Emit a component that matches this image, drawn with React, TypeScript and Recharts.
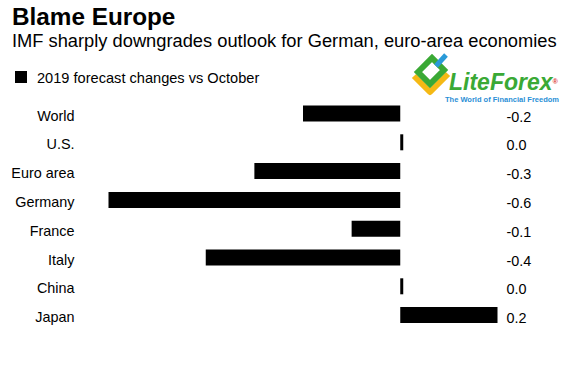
import * as React from 'react'
import { Bar, BarChart, XAxis, YAxis } from 'recharts'

const categories = ['World', 'U.S.', 'Euro area', 'Germany', 'France', 'Italy', 'China', 'Japan']
const changes = [-0.2, 0.0, -0.3, -0.6, -0.1, -0.4, 0.0, 0.2]
const xDomain: [number, number] = [-0.6, 0.2]

const data = categories.map((name, i) => ({ name, change: changes[i] }))
const labelFor: Record<string, string> = Object.fromEntries(
  categories.map((name, i) => [name, changes[i].toFixed(1)])
)

const FONT = '"Liberation Sans", Arial, Helvetica, sans-serif'

function Logo() {
  return (
    <div style={{ position: 'absolute', left: 408, top: 52, width: 160, height: 52 }}>
      <svg width={46} height={44} style={{ position: 'absolute', left: 0, top: 0 }}>
        <polyline points="6,24 22,40 40,22" fill="none" stroke="#f5b914" strokeWidth={6} strokeLinejoin="round" />
        <polygon points="10,20 24,6 36,18 22,32" fill="none" stroke="#3aa935" strokeWidth={6} />
        <line x1={28} y1={14} x2={38} y2={3} stroke="#2a9ad8" strokeWidth={5} />
      </svg>
      <div
        style={{
          position: 'absolute',
          left: 41,
          top: 20,
          fontSize: 23,
          lineHeight: '20px',
          fontWeight: 700,
          fontStyle: 'italic',
          color: '#3aa935',
          whiteSpace: 'nowrap',
        }}
      >
        LiteForex<span style={{ fontSize: 7, color: '#d9342b', verticalAlign: 'top' }}>®</span>
      </div>
      <div
        style={{
          position: 'absolute',
          left: 37,
          top: 43.5,
          fontSize: 7.5,
          lineHeight: '8px',
          fontWeight: 700,
          color: '#2a8fd6',
          whiteSpace: 'nowrap',
        }}
      >
        The World of Financial Freedom
      </div>
    </div>
  )
}

export default function App() {
  return (
    <div
      style={{
        position: 'absolute',
        left: 0,
        top: 0,
        width: 576,
        height: 368,
        background: '#fff',
        fontFamily: FONT,
        color: '#000',
        overflow: 'hidden',
      }}
    >
      <div style={{ position: 'absolute', left: 12, top: 4.5, fontSize: 24.3, lineHeight: '24.3px', fontWeight: 700, whiteSpace: 'nowrap' }}>
        Blame Europe
      </div>
      <div style={{ position: 'absolute', left: 12, top: 31.5, fontSize: 18.3, lineHeight: '18.3px', whiteSpace: 'nowrap' }}>
        IMF sharply downgrades outlook for German, euro-area economies
      </div>
      <div style={{ position: 'absolute', left: 15, top: 71, width: 12, height: 12, background: '#000' }} />
      <div style={{ position: 'absolute', left: 37, top: 70.7, fontSize: 14.6, lineHeight: '14.6px', whiteSpace: 'nowrap' }}>
        2019 forecast changes vs October
      </div>

      <div style={{ position: 'absolute', left: 0, top: 0 }}>
        <BarChart
          width={576}
          height={368}
          data={data}
          layout="vertical"
          margin={{ top: 99.5, right: 0, bottom: 38.1, left: 0 }}
        >
          <XAxis type="number" domain={xDomain} hide />
          <YAxis
            yAxisId="left"
            type="category"
            dataKey="name"
            width={108.5}
            axisLine={false}
            tickLine={false}
            tickSize={0}
            tickMargin={34}
            interval={0}
            tick={{ fill: '#000', fontSize: 14.4, fontFamily: FONT, dy: 1.5 }}
          />
          <YAxis
            yAxisId="right"
            orientation="right"
            type="category"
            dataKey="name"
            width={78.5}
            axisLine={false}
            tickLine={false}
            tickSize={0}
            tickMargin={9}
            interval={0}
            tickFormatter={(n: string) => labelFor[n]}
            tick={{ fill: '#000', fontSize: 14.4, fontFamily: FONT, dy: 2.5 }}
          />
          <Bar
            yAxisId="left"
            dataKey="change"
            fill="#000"
            barSize={16}
            minPointSize={3}
            isAnimationActive={false}
          />
        </BarChart>
      </div>

      <Logo />
    </div>
  )
}
